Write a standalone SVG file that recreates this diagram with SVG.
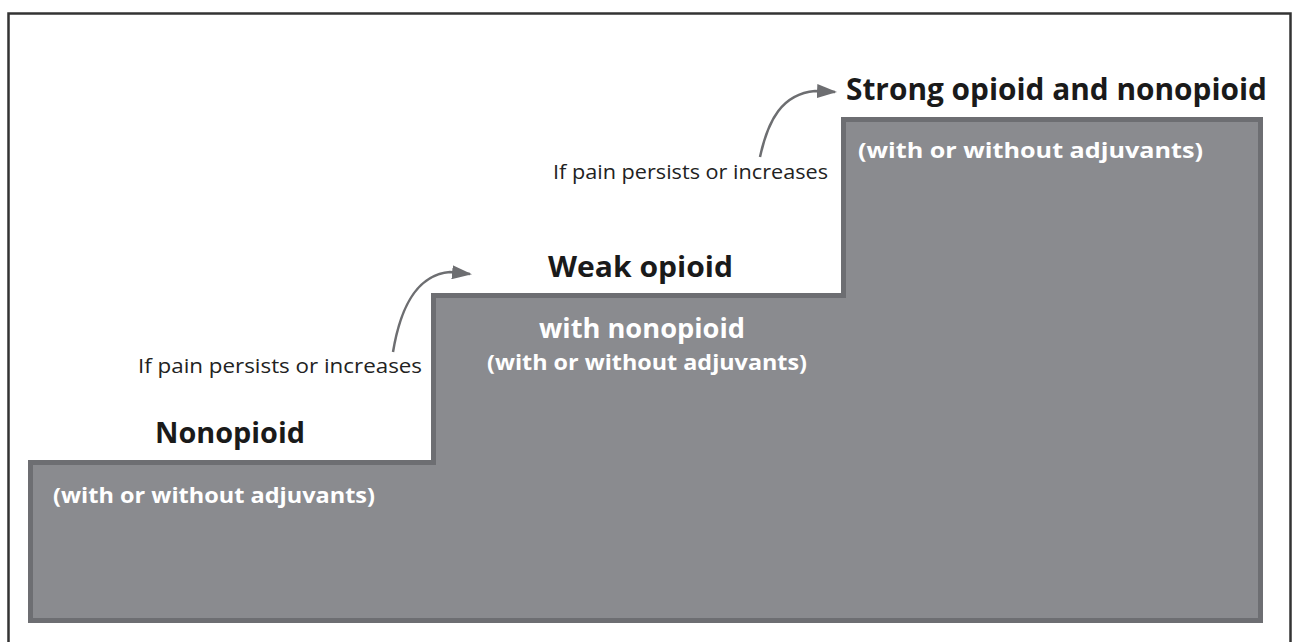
<svg xmlns="http://www.w3.org/2000/svg" width="1293" height="642" viewBox="0 0 1293 642">
  <defs>
    <style>
      .title { font-family: "Open Sans", "Liberation Sans", sans-serif; font-weight: bold; fill: #1a1a1a; }
      .white { font-family: "Open Sans", "Liberation Sans", sans-serif; font-weight: bold; fill: #ffffff; }
      .note { font-family: "Open Sans", "Liberation Sans", sans-serif; fill: #222222; font-size: 20px; }
      .arrow { fill: none; stroke: #6d6e71; stroke-width: 2.5; }
    </style>
    <marker id="head" viewBox="0 0 20 14" refX="18" refY="7" markerWidth="20" markerHeight="14" markerUnits="userSpaceOnUse" orient="auto">
      <path d="M0,0 L20,7 L0,14 Z" fill="#6d6e71"/>
    </marker>
  </defs>
  <rect x="0" y="0" width="1293" height="642" fill="#ffffff"/>
  <rect id="frame" x="8.5" y="13.5" width="1282" height="640" fill="none" stroke="#333333" stroke-width="2.5"/>
  <g id="stairs">
    <path d="M28,460 H431 V293 H841 V117 H1263 V623 H28 Z" fill="#6d6e72"/>
    <path d="M33,465 H436 V298 H846 V122 H1258 V618 H33 Z" fill="#8a8b8f"/>
  </g>
  <g id="step1">
    <text class="title" x="155" y="443" font-size="29" textLength="150" lengthAdjust="spacingAndGlyphs">Nonopioid</text>
    <text class="white" x="53" y="503" font-size="22" textLength="322" lengthAdjust="spacingAndGlyphs">(with or without adjuvants)</text>
  </g>
  <g id="step2">
    <text class="title" x="548" y="277" font-size="29" textLength="185" lengthAdjust="spacingAndGlyphs">Weak opioid</text>
    <text class="white" x="539" y="338" font-size="26" textLength="206" lengthAdjust="spacingAndGlyphs">with nonopioid</text>
    <text class="white" x="487" y="370" font-size="22" textLength="320" lengthAdjust="spacingAndGlyphs">(with or without adjuvants)</text>
  </g>
  <g id="step3">
    <text class="title" x="846" y="100" font-size="31" textLength="421" lengthAdjust="spacingAndGlyphs">Strong opioid and nonopioid</text>
    <text class="white" x="858" y="158" font-size="22" textLength="345" lengthAdjust="spacingAndGlyphs">(with or without adjuvants)</text>
  </g>
  <g id="labels">
    <text class="note" x="138" y="373" textLength="284" lengthAdjust="spacingAndGlyphs">If pain persists or increases</text>
    <text class="note" x="553" y="179" textLength="275" lengthAdjust="spacingAndGlyphs">If pain persists or increases</text>
  </g>
  <g id="connectors">
    <path class="arrow" d="M393,352 C400,310 415,275 450,272 L470,274" marker-end="url(#head)"/>
    <path class="arrow" d="M760,157 C768,120 782,94 815,91 L835,92" marker-end="url(#head)"/>
  </g>
</svg>
